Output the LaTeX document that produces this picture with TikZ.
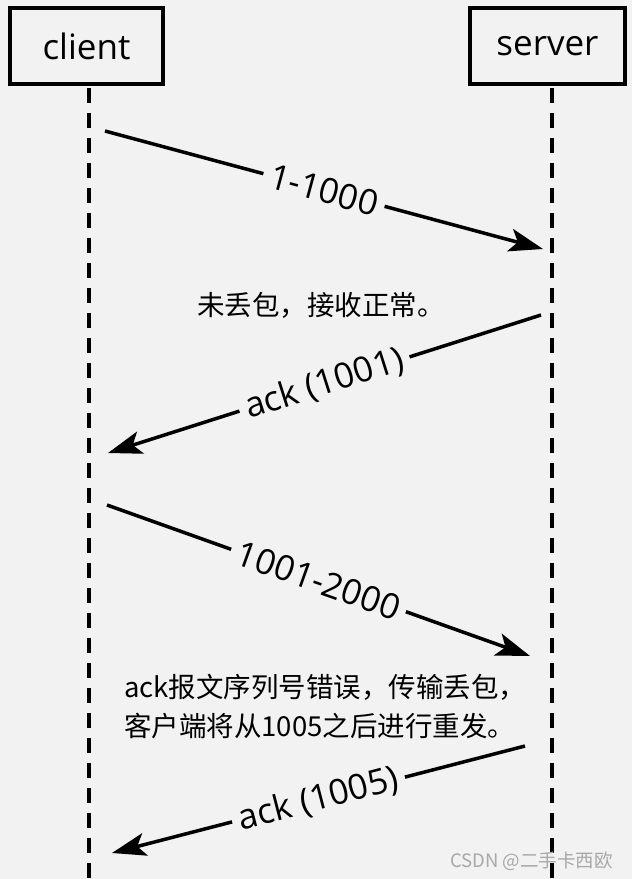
\documentclass[tikz,border=0pt]{standalone}
\usepackage{fontspec}
\setmainfont{Open Sans}
\newfontfamily\cjk{Noto Sans CJK SC}
\usetikzlibrary{arrows.meta}
\definecolor{bg}{HTML}{F2F2F2}
\definecolor{wm}{HTML}{A8A8A8}
\begin{document}
\begin{tikzpicture}[x=1pt,y=-1pt,
  actor/.style={draw, line width=3.5pt, minimum width=153pt, minimum height=76pt, inner sep=0pt, font=\fontsize{35}{40}\selectfont},
  lifeline/.style={line width=3.5pt, dash pattern=on 15pt off 10pt},
  msg/.style={line width=3.5pt, -{Stealth[length=34pt,width=23pt,inset=8pt]}},
  msglabel/.style={sloped, fill=bg, inner xsep=7pt, inner ysep=0pt, font=\fontsize{35}{40}\selectfont},
  note/.style={font=\cjk\fontsize{27.5}{39}\selectfont, inner sep=0pt}
]
\fill[bg] (0,0) rectangle (632,879);
\useasboundingbox (0,0) rectangle (632,879);
\node[actor] (client) at (86.5,46) {client};
\node[actor, minimum width=155pt] (server) at (547.5,46) {server};
\coordinate (cl0) at (89,88);
\coordinate (cl1) at (89,879);
\coordinate (sl0) at (552,88);
\coordinate (sl1) at (552,879);
\draw[lifeline] (cl0) -- (cl1);
\draw[lifeline] (sl0) -- (sl1);
\coordinate (a1s) at (105,131);
\coordinate (a1e) at (543,249);
\coordinate (a2s) at (541,315);
\coordinate (a2e) at (108,453);
\coordinate (a3s) at (107,505);
\coordinate (a3e) at (530,656);
\coordinate (a4s) at (525,746);
\coordinate (a4e) at (112,853);
\draw[msg] (a1s) -- node[msglabel] (l1) {1-1000} (a1e);
\draw[msg] (a2s) -- node[msglabel] (l2) {ack (1001)} (a2e);
\draw[msg] (a3s) -- node[msglabel] (l3) {1001-2000} (a3e);
\draw[msg] (a4s) -- node[msglabel] (l4) {ack (1005)} (a4e);
\node[note] (n1) at (321,305) {未丢包，接收正常。};
\node[note, anchor=west, align=left] (n2) at (124,707) {ack报文序列号错误，传输丢包，\\客户端将从1005之后进行重发。};
\node[font=\cjk\fontsize{18.5}{22}\selectfont, text=wm, anchor=east, inner sep=0pt] (wmk) at (613,861) {CSDN @二手卡西欧};
\end{tikzpicture}
\end{document}
